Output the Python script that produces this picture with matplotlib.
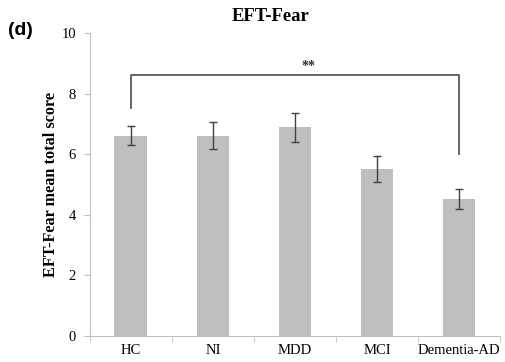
import numpy as np
import matplotlib
matplotlib.use("Agg")
import matplotlib.pyplot as plt

groups = ['HC', 'NI', 'MDD', 'MCI', 'Dementia-AD']
means = [6.61, 6.61, 6.88, 5.52, 4.51]
errors = [0.31, 0.44, 0.48, 0.43, 0.33]

serif = ['Liberation Serif', 'DejaVu Serif']

fig = plt.figure(figsize=(5.05, 3.62), dpi=100)
ax = fig.add_axes([0.178, 0.072, 0.812, 0.837])

x = np.arange(len(groups))
ax.bar(x, means, width=0.4, color='#bfbfbf', zorder=2)
ax.errorbar(x, means, yerr=errors, fmt='none', ecolor='#404040',
            elinewidth=1, capsize=3, capthick=1, zorder=3)

ax.set_xlim(-0.5, len(groups) - 0.5)
ax.set_ylim(0, 10)
ax.set_yticks([0, 2, 4, 6, 8, 10])
ax.set_xticks(x)
ax.set_xticklabels(groups, family=serif, fontsize=10.5)
ax.set_xticks(np.arange(len(groups) + 1) - 0.5, minor=True)
ax.tick_params(axis='x', which='major', length=0, pad=6)
ax.tick_params(axis='x', which='minor', length=4, color='#bfbfbf', direction='out')
ax.tick_params(axis='y', length=4, color='#bfbfbf', direction='out', pad=6)
for lab in ax.get_yticklabels():
    lab.set_family(serif)
    lab.set_fontsize(10.5)

for s in ['top', 'right']:
    ax.spines[s].set_visible(False)
for s in ['left', 'bottom']:
    ax.spines[s].set_color('#bfbfbf')

ax.set_ylabel('EFT-Fear mean total score', family=serif, fontsize=11.7,
              fontweight='bold', labelpad=2)

# significance bracket HC vs Dementia-AD
ax.plot([0, 0, 4, 4], [7.52, 8.61, 8.61, 6.0], color='#595959', lw=1.3,
        clip_on=False, zorder=4)
ax.text(2.16, 8.9, '**', ha='center', va='center', family=serif,
        fontsize=10, fontweight='bold', color='#333333')

fig.text(0.535, 0.955, 'EFT-Fear', ha='center', va='center', family=serif,
         fontsize=13.4, fontweight='bold')
fig.text(0.015, 0.915, '(d)', ha='left', va='center',
         family=['Liberation Sans', 'DejaVu Sans'],
         fontsize=14, fontweight='bold')

fig.savefig('out.png', dpi=100)
